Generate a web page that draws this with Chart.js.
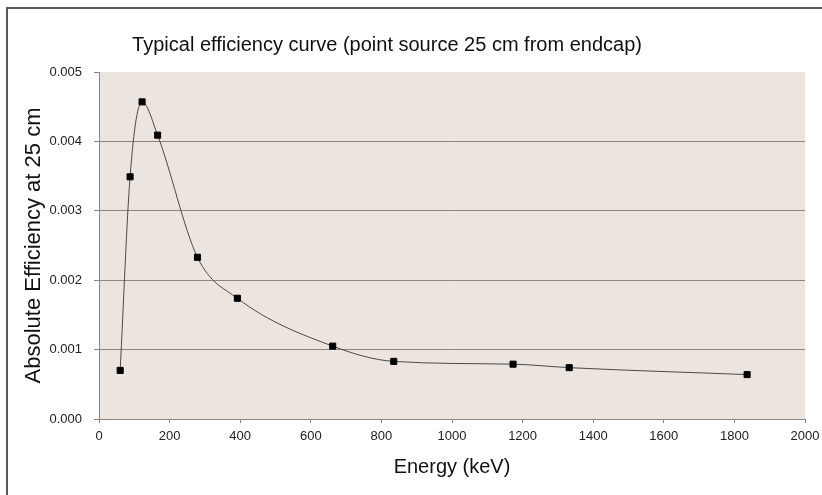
<!DOCTYPE html>
<html>
<head>
<meta charset="utf-8">
<script src="https://cdn.jsdelivr.net/npm/chart.js@4.4.1/dist/chart.umd.min.js"></script>
<style>
    body { margin: 0; background: #fff; }
    #frame {
        position: absolute; left: 6px; top: 7px; width: 830px; height: 500px;
        border-left: 2px solid #5a5a5a; border-top: 2px solid #5a5a5a;
    }
    #wrap { position: absolute; left: 0; top: 0; width: 822px; height: 495px; }
</style>
</head>
<body>
<div id="frame"></div>
<div id="wrap"><canvas id="effChart" width="822" height="495"></canvas></div>
<script>
// gamma line energies (keV) and measured absolute efficiency at 25 cm
const energies = [60, 88, 122, 166, 279, 392, 662, 835, 1173, 1332, 1836];
const efficiency = [0.00070, 0.00349, 0.00457, 0.00409, 0.00233, 0.00174, 0.00105, 0.00083, 0.00079, 0.00074, 0.00064];

const xTicks = [0, 200, 400, 600, 800, 1000, 1200, 1400, 1600, 1800, 2000];
const yTicks = [0, 0.001, 0.002, 0.003, 0.004, 0.005];

const chartTitle = "Typical efficiency curve (point source 25 cm from endcap)";

const FONT = "'Liberation Sans', Arial, sans-serif";
const GRID = "#8e8580";

// plot area background
const plotBg = {
    id: "plotBg",
    beforeDraw(chart) {
        const { ctx, chartArea: a } = chart;
        ctx.save();
        ctx.fillStyle = "#ece4de";
        ctx.fillRect(a.left, a.top, a.right - a.left, a.bottom - a.top);
        ctx.restore();
    }
};

// title sits a bit left of the plot centre, like the original sheet
const titleText = {
    id: "titleText",
    afterDraw(chart) {
        const ctx = chart.ctx;
        ctx.save();
        ctx.fillStyle = "#111";
        ctx.font = `20px ${FONT}`;
        ctx.textAlign = "center";
        ctx.textBaseline = "middle";
        ctx.fillText(chartTitle, 387, 45);
        ctx.restore();
    }
};

const points = energies.map((e, i) => ({ x: e, y: efficiency[i] }));

new Chart(document.getElementById("effChart"), {
    type: "scatter",
    data: {
        datasets: [{
            data: points,
            showLine: true,
            borderColor: "#4a4a4a",
            borderWidth: 1,
            cubicInterpolationMode: "monotone",
            pointStyle: "rect",
            pointRadius: 4.3,
            pointBackgroundColor: "#000",
            pointBorderColor: "#000",
            pointBorderWidth: 1
        }]
    },
    options: {
        responsive: false,
        animation: false,
        layout: { padding: { left: 8, right: 17, top: 72, bottom: 6 } },
        plugins: {
            legend: { display: false },
            tooltip: { enabled: false }
        },
        scales: {
            x: {
                type: "linear",
                min: 0,
                max: 2000,
                afterBuildTicks(scale) {
                    scale.ticks = xTicks.map(v => ({ value: v }));
                },
                afterFit(scale) {
                    scale.height = 70;
                    scale.paddingRight = 0;
                },
                ticks: {
                    color: "#222",
                    padding: 6,
                    maxRotation: 0,
                    font: { family: FONT, size: 13 },
                    callback: v => String(v)
                },
                grid: {
                    drawOnChartArea: false,
                    tickLength: 4,
                    tickColor: GRID
                },
                border: { display: true, color: GRID, width: 1 },
                title: {
                    display: true,
                    text: "Energy (keV)",
                    color: "#111",
                    font: { family: FONT, size: 20 },
                    padding: { top: 0, bottom: 10 }
                }
            },
            y: {
                min: 0,
                max: 0.005,
                afterBuildTicks(scale) {
                    scale.ticks = yTicks.map(v => ({ value: v }));
                },
                afterFit(scale) { scale.width = 91; },
                ticks: {
                    color: "#222",
                    padding: 12,
                    font: { family: FONT, size: 13 },
                    callback: v => v.toFixed(3)
                },
                grid: {
                    color: ctx => (ctx.tick && ctx.tick.value > 0 && ctx.tick.value < 0.005) ? GRID : "rgba(0,0,0,0)",
                    tickLength: 5,
                    tickColor: GRID
                },
                border: { display: true, color: GRID, width: 1 },
                title: {
                    display: true,
                    text: "Absolute Efficiency at 25 cm",
                    color: "#111",
                    font: { family: FONT, size: 22 },
                    padding: { top: 13, bottom: 0 }
                }
            }
        }
    },
    plugins: [plotBg, titleText]
});
</script>
</body>
</html>
